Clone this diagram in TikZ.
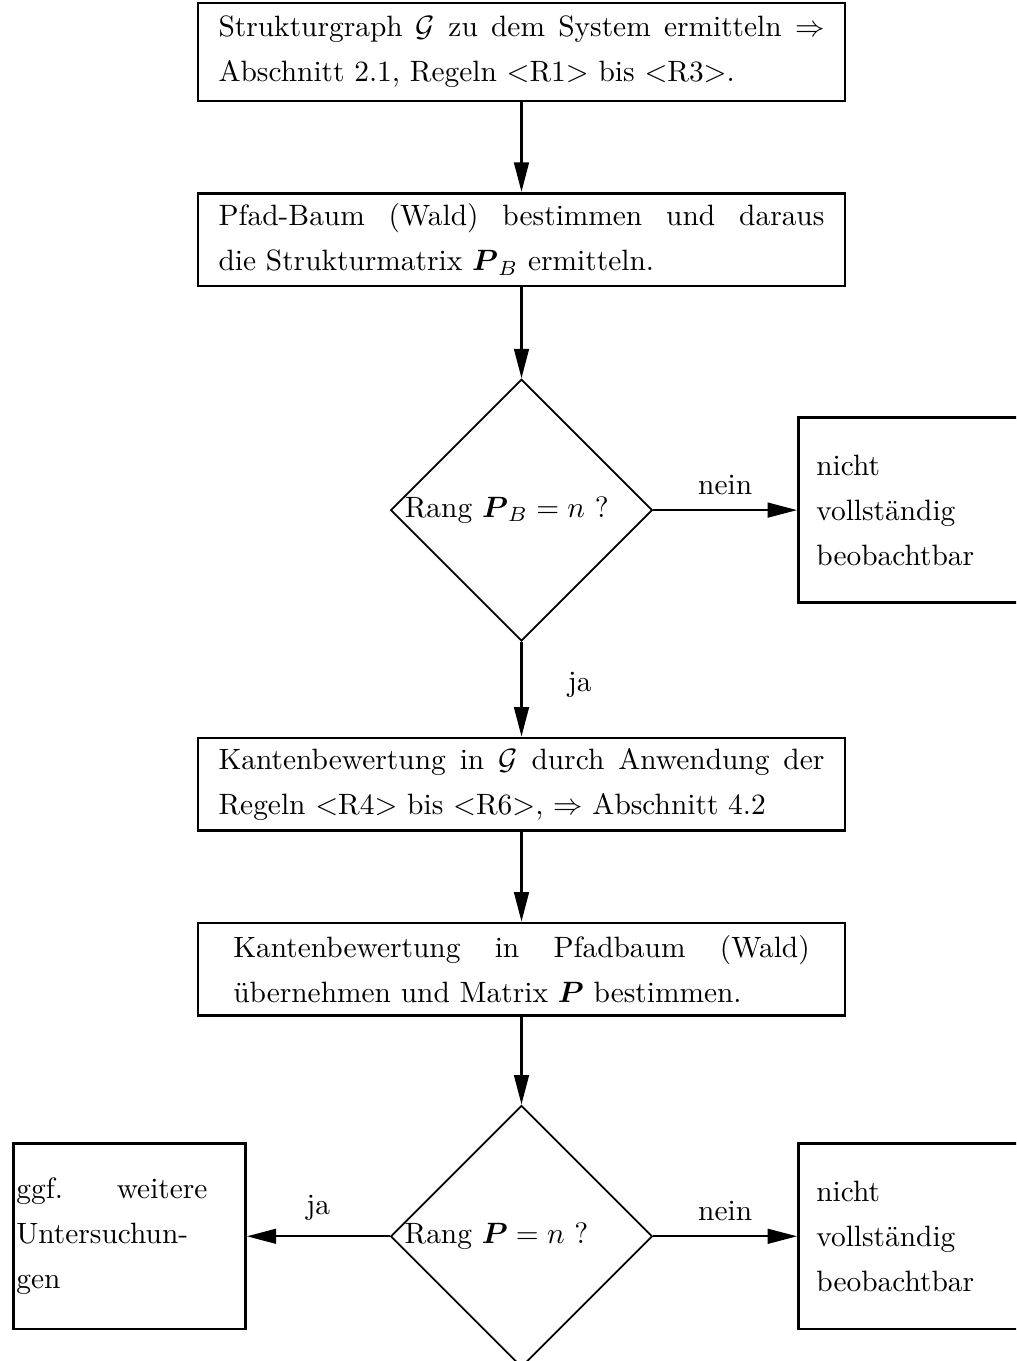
\documentclass[tikz,border=0pt]{standalone}
\usepackage{amssymb}
\usepackage{amsmath}
\usepackage{tikz}
\usetikzlibrary{arrows.meta,shapes.geometric,positioning}

\tikzset{
  box/.style={draw, rectangle, line width=0.9pt, text width=206pt, inner xsep=7pt,
    minimum height=31.5pt, align=justify},
  rang/.style={draw, diamond, aspect=1, minimum size=89pt, inner sep=-5pt, line width=0.6pt},
  endbox/.style={draw, rectangle, line width=0.9pt, text width=66.7pt, inner xsep=6.1pt,
    minimum height=63pt, align=left},
  lbl/.style={draw=none, yshift=1.5pt}
}

\begin{document}
\begin{tikzpicture}[->, >={Triangle[length=10pt, width=5pt]}, line width=0.8pt,
  x=0.34pt, y=-0.34pt, font=\fontsize{10pt}{15.3pt}\selectfont]

  \useasboundingbox (0,0) rectangle (1016,1361);
  \clip (0,0) rectangle (1016,1361);

  \node (1) [box, minimum height=33.3pt] at (521.5,52)
    {Strukturgraph $\mathcal{G}$ zu dem System ermitteln $\Rightarrow$\linebreak
     Abschnitt 2.1, Regeln $<$R1$>$ bis $<$R3$>$.};
  \node (2) [box, below of=1, node distance=63.75pt]
    {Pfad-Baum (Wald) bestimmen und daraus\linebreak
     die Strukturmatrix $\boldsymbol{P}_B$ ermitteln.};
  \node (3) [rang, below of=2, node distance=92pt] {Rang $\boldsymbol{P}_B = n$ ?\hspace*{10pt}};
  \node (4) [box, below of=3, node distance=93.2pt]
    {Kantenbewertung in $\mathcal{G}$ durch Anwendung der\linebreak
     Regeln $<$R4$>$ bis $<$R6$>$, $\Rightarrow$ Abschnitt 4.2};
  \node (5) [box, below of=4, node distance=62.9pt, text width=196pt, inner xsep=12pt]
    {Kantenbewertung in Pfadbaum (Wald)\linebreak
     übernehmen und Matrix $\boldsymbol{P}$ bestimmen.};
  \node (6) [rang, below of=5, node distance=90.8pt] {Rang $\boldsymbol{P} = n$ ?\hspace*{17pt}};
  \node (7) [endbox, right of=3, node distance=133.6pt] {nicht\\ vollständig\\ beobachtbar};
  \node (8) [endbox, right of=6, node distance=133.6pt] {nicht\\ vollständig\\ beobachtbar};
  \node (9) [endbox, left of=6, node distance=133.3pt, text width=76.9pt, inner xsep=1pt]
    {\makebox[65pt][l]{ggf.\hfill weitere}\\ Untersuchun-\\ gen};

  \path (1) edge (2);
  \path (2) edge (3);
  \path (3) edge node[lbl, right=12pt] {ja} (4);
  \path (3) edge node[lbl, above] {nein} (7);
  \path (4) edge (5);
  \path (5) edge (6);
  \path (6) edge node[lbl, above] {ja} (9);
  \path (6) edge node[lbl, above] {nein} (8);

\end{tikzpicture}
\end{document}
